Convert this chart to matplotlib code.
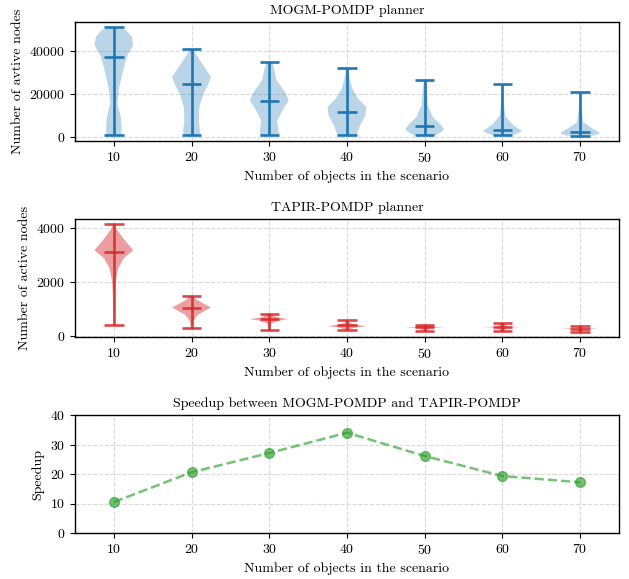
import matplotlib
matplotlib.use("Agg")
import matplotlib.pyplot as plt
import numpy as np

plt.rcParams['font.family'] = ['cmr10', 'DejaVu Serif']
plt.rcParams['mathtext.fontset'] = 'cm'
plt.rcParams['axes.formatter.use_mathtext'] = True
plt.rcParams['font.size'] = 10
plt.rcParams['axes.unicode_minus'] = False

# ---------------- data ----------------
num_objects = [10, 20, 30, 40, 50, 60, 70]

# MOGM-POMDP planner (active nodes)
mogm_min = [700, 700, 700, 700, 600, 550, 500]
mogm_median = [37300, 24800, 16800, 11400, 5200, 3300, 2200]
mogm_max = [51000, 40800, 34700, 31850, 26350, 24500, 20850]
mogm_shape_coords = [
    [700, 4400, 9100, 15500, 23200, 31000, 37300, 42800, 46700, 49900, 51000],
    [700, 2800, 7500, 13800, 20100, 24800, 27900, 34200, 38900, 40800],
    [700, 2800, 7500, 12200, 16900, 20100, 26350, 32600, 34700],
    [700, 5200, 9900, 13800, 17700, 22400, 28700, 31850],
    [600, 2500, 3600, 6000, 9100, 14600, 22400, 26350],
    [550, 1800, 2800, 4200, 6000, 9900, 16100, 24500],
    [500, 1300, 2000, 3600, 6700, 12000, 20850],
]
mogm_shape_density = [
    [0.38, 0.4, 0.36, 0.18, 0.28, 0.48, 0.66, 1.0, 0.92, 0.6, 0.2],
    [0.4, 0.44, 0.37, 0.4, 0.62, 0.88, 1.0, 0.54, 0.2, 0.08],
    [0.48, 0.48, 0.41, 0.68, 1.0, 0.86, 0.37, 0.23, 0.12],
    [0.49, 0.67, 0.95, 1.0, 0.58, 0.27, 0.09, 0.05],
    [0.55, 0.9, 1.0, 0.78, 0.43, 0.16, 0.1, 0.04],
    [0.45, 0.85, 1.0, 0.75, 0.48, 0.14, 0.07, 0.03],
    [0.7, 0.95, 1.0, 0.67, 0.17, 0.08, 0.03],
]

# TAPIR-POMDP planner (active nodes)
tapir_min = [400, 284, 222, 210, 185, 185, 150]
tapir_median = [3090, 1045, 616, 380, 306, 320, 260]
tapir_max = [4135, 1490, 812, 590, 410, 460, 370]
tapir_shape_coords = [
    [400, 1000, 1500, 2000, 2500, 2870, 3175, 3600, 3975, 4135],
    [284, 530, 775, 1045, 1330, 1490],
    [222, 450, 560, 616, 680, 812],
    [210, 300, 350, 420, 500, 590],
    [185, 280, 306, 330, 410],
    [185, 300, 320, 340, 460],
    [150, 240, 260, 285, 370],
]
tapir_shape_density = [
    [0.02, 0.03, 0.05, 0.09, 0.22, 0.5, 1.0, 0.5, 0.13, 0.04],
    [0.03, 0.08, 0.32, 1.0, 0.28, 0.05],
    [0.03, 0.1, 0.5, 1.0, 0.4, 0.05],
    [0.05, 0.4, 1.0, 0.35, 0.1, 0.03],
    [0.05, 0.15, 0.55, 0.15, 0.05],
    [0.05, 0.15, 0.55, 0.15, 0.05],
    [0.05, 0.15, 1.0, 0.15, 0.05],
]

# Speedup
speedup = [10.5, 20.6, 27.1, 34.0, 26.1, 19.3, 17.2]

xlabel = "Number of objects in the scenario"


def make_stats(coords, dens, mins, meds, maxs):
    out = []
    for c, d, lo, me, hi in zip(coords, dens, mins, meds, maxs):
        out.append(dict(coords=np.array(c, float), vals=np.array(d, float),
                        mean=me, median=me, min=lo, max=hi))
    return out


def draw_violin(ax, stats, color, body_alpha, line_alpha, norm=False):
    parts = ax.violin(stats, positions=num_objects, widths=5,
                      showmedians=True, showextrema=True)
    for b in parts['bodies']:
        b.set_facecolor(color)
        b.set_edgecolor('none')
        b.set_alpha(body_alpha)
    for key in ('cmaxes', 'cmins', 'cbars', 'cmedians'):
        parts[key].set_color(color)
        parts[key].set_linewidth(1.9)
        parts[key].set_alpha(line_alpha)


def style(ax):
    ax.set_axisbelow(True)
    ax.grid(True, linestyle='--', color='#d9d9d9', linewidth=0.8)
    ax.set_xticks(num_objects)
    ax.set_xlim(5, 75)
    ax.set_xlabel(xlabel)
    for s in ax.spines.values():
        s.set_linewidth(1.0)


fig = plt.figure(figsize=(6.29, 5.79), dpi=100)
W, H = 629.0, 579.0
L, R = 75 / W, 619 / W
ax1 = fig.add_axes([L, 1 - 141 / H, R - L, 119 / H])
ax2 = fig.add_axes([L, 1 - 337 / H, R - L, 118 / H])
ax3 = fig.add_axes([L, 1 - 533 / H, R - L, 118 / H])

draw_violin(ax1, make_stats(mogm_shape_coords, mogm_shape_density,
                            mogm_min, mogm_median, mogm_max),
            '#1f77b4', 0.3, 1.0)
style(ax1)
ax1.set_title("MOGM-POMDP planner", fontsize=10)
ax1.set_ylabel("Number of avtive nodes")
ax1.set_yticks([0, 20000, 40000])

draw_violin(ax2, make_stats(tapir_shape_coords, tapir_shape_density,
                            tapir_min, tapir_median, tapir_max),
            '#d62728', 0.45, 0.85)
style(ax2)
ax2.set_title("TAPIR-POMDP planner", fontsize=10)
ax2.set_ylabel("Number of active nodes")
ax2.set_yticks([0, 2000, 4000])

ax3.plot(num_objects, speedup, linestyle='--', marker='o', color='#2ca02c',
         alpha=0.65, linewidth=1.8, markersize=7)
style(ax3)
ax3.set_ylim(0, 40)
ax3.set_yticks([0, 10, 20, 30, 40])
ax3.set_title("Speedup between MOGM-POMDP and TAPIR-POMDP", fontsize=10)
ax3.set_ylabel("Speedup")

fig.savefig("out.png", dpi=100)
